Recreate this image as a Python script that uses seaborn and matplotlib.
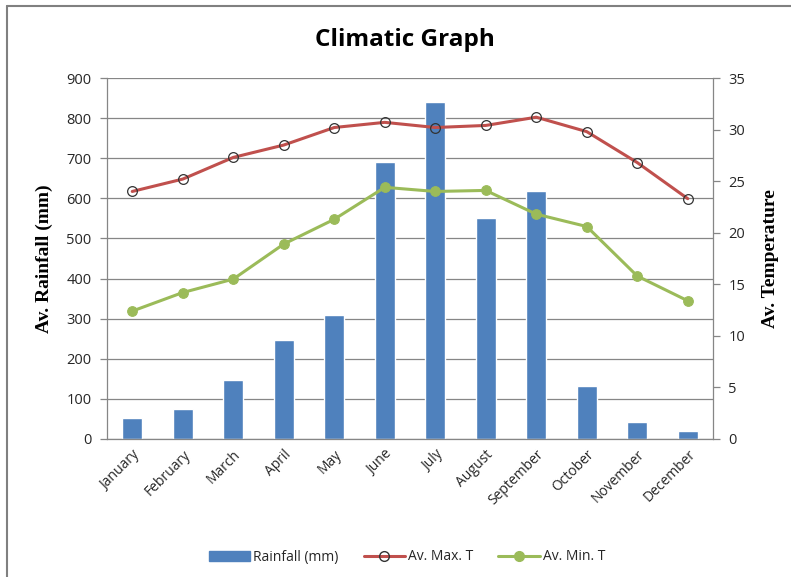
import numpy as np
import pandas as pd
import seaborn as sns
import matplotlib.pyplot as plt
from matplotlib.lines import Line2D
from matplotlib.patches import Patch

months = ['January', 'February', 'March', 'April', 'May', 'June', 'July',
          'August', 'September', 'October', 'November', 'December']
rainfall = [52, 75, 147, 247, 309, 691, 840, 551, 618, 132, 42, 20]
max_t = [24.0, 25.2, 27.3, 28.5, 30.2, 30.7, 30.2, 30.4, 31.2, 29.8, 26.8, 23.3]
min_t = [12.4, 14.2, 15.5, 18.9, 21.3, 24.4, 24.0, 24.1, 21.8, 20.6, 15.8, 13.4]

df = pd.DataFrame({'Month': months, 'Rainfall (mm)': rainfall,
                   'Av. Max. T': max_t, 'Av. Min. T': min_t})
df['pos'] = range(len(df))

blue, red, green = '#4F81BD', '#C0504D', '#9BBB59'
grid_c = '#868686'
txt_c = '#262626'

sns.set_style('white')
plt.rcParams['font.family'] = ['Open Sans', 'DejaVu Sans']

fig = plt.figure(figsize=(7.91, 5.77), dpi=100)
ax = fig.add_axes([107 / 791, 1 - 439 / 577, 606 / 791, 361 / 577])

sns.barplot(data=df, x='pos', y='Rainfall (mm)', color=blue, width=0.4,
            saturation=1, ax=ax, zorder=2)
ax.set_xlim(-0.5, 11.5)
ax.set_ylim(0, 900)
ax.set_yticks(range(0, 901, 100))
ax.yaxis.grid(True, color=grid_c, lw=0.9)
ax.set_axisbelow(True)
ax.set_xticks(df['pos'])
ax.set_xticklabels(months, rotation=45, ha='right', rotation_mode='anchor',
                   fontsize=10, color=txt_c)
ax.set_xticks(np.arange(-0.5, 12, 1), minor=True)
ax.tick_params(axis='x', which='major', length=0, pad=6)
ax.tick_params(axis='x', which='minor', length=5, color=grid_c, width=0.9)
ax.tick_params(axis='y', length=5, color=grid_c, width=0.9, labelsize=10.5,
               labelcolor=txt_c, pad=6)
ax.set_xlabel('')
ax.set_ylabel('Av. Rainfall (mm)', family='Liberation Serif', fontsize=14,
              fontweight='bold', labelpad=10, color='black')
for s in ['top', 'right']:
    ax.spines[s].set_visible(False)
for s in ['left', 'bottom']:
    ax.spines[s].set_color(grid_c)
    ax.spines[s].set_linewidth(0.9)

ax2 = ax.twinx()
sns.lineplot(data=df, x='pos', y='Av. Max. T', color=red, lw=2.2, ax=ax2,
             marker='o', markersize=7, markerfacecolor='none',
             markeredgecolor='#333333', markeredgewidth=0.9, zorder=3)
sns.lineplot(data=df, x='pos', y='Av. Min. T', color=green, lw=2.2, ax=ax2,
             marker='o', markersize=7, markerfacecolor=green,
             markeredgecolor=green, zorder=3)
ax2.set_ylim(0, 35)
ax2.set_yticks(range(0, 36, 5))
ax2.set_xlim(-0.5, 11.5)
ax2.tick_params(axis='y', length=5, color=grid_c, width=0.9, labelsize=10.5,
                labelcolor=txt_c, pad=6)
ax2.set_ylabel('Av. Temperature', family='Liberation Serif', fontsize=14,
               fontweight='bold', labelpad=12, color='black')
ax2.set_xlabel('')
for s in ['top', 'left', 'bottom']:
    ax2.spines[s].set_visible(False)
ax2.spines['right'].set_color(grid_c)
ax2.spines['right'].set_linewidth(0.9)

fig.text(405 / 791, 1 - 40 / 577, 'Climatic Graph', ha='center', va='center',
         fontsize=17.5, fontweight='bold', family='Open Sans', color='black')

handles = [Patch(color=blue),
           Line2D([], [], color=red, lw=2.2, marker='o', markersize=7,
                  markerfacecolor='none', markeredgecolor='#333333'),
           Line2D([], [], color=green, lw=2.2, marker='o', markersize=7,
                  markerfacecolor=green)]
leg = fig.legend(handles, ['Rainfall (mm)', 'Av. Max. T', 'Av. Min. T'],
                 loc='center', bbox_to_anchor=(407 / 791, 1 - 557 / 577),
                 ncol=3, frameon=False, fontsize=10, handlelength=3.0,
                 columnspacing=1.8, handletextpad=0.2)
for t in leg.get_texts():
    t.set_color(txt_c)

fig.add_artist(plt.Line2D([7 / 791, 7 / 791], [0, 1 - 6 / 577],
                          transform=fig.transFigure, color='#808080', lw=1.5))
fig.add_artist(plt.Line2D([7 / 791, 1], [1 - 6 / 577, 1 - 6 / 577],
                          transform=fig.transFigure, color='#808080', lw=1.5))

fig.savefig('out.png', dpi=100)
